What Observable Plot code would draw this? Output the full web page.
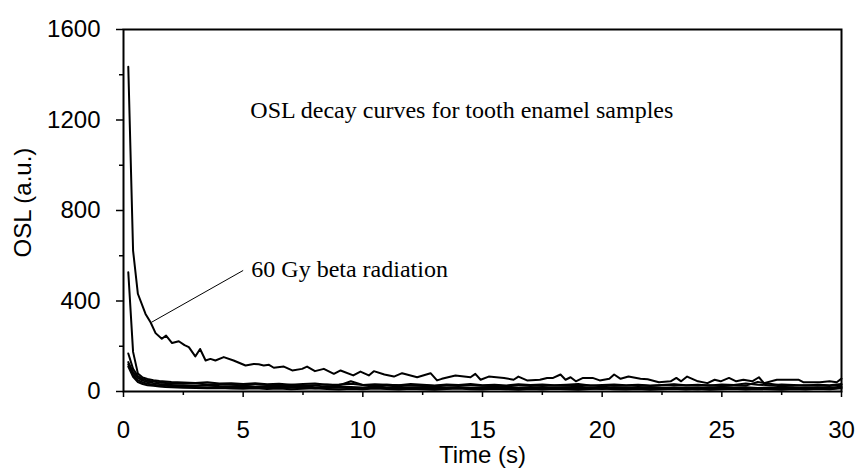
<!DOCTYPE html>
<html>
<head>
<meta charset="utf-8">
<script src="https://cdn.jsdelivr.net/npm/d3@7"></script>
<script src="https://cdn.jsdelivr.net/npm/@observablehq/plot@0.6"></script>
<style>
  body { margin: 0; background: #fff; }
</style>
</head>
<body>
<div id="chart"></div>
<script>
// ---- Tick labels ----
const xTicks = [0, 5, 10, 15, 20, 25, 30];
const xMinorTicks = [2.5, 7.5, 12.5, 17.5, 22.5, 27.5];
const yTicks = [0, 400, 800, 1200, 1600];
const yMinorTicks = [200, 600, 1000, 1400];

// ---- Texts ----
const xLabel = "Time (s)";
const yLabel = "OSL (a.u.)";
const titleText = "OSL decay curves for tooth enamel samples";
const doseText = "60 Gy beta radiation";
// annotation anchor points in data units [time, OSL]
const titleAt = [5.3, 1245];
const doseAt = [5.34, 538];
const leader = [[5.0, 535], [1.17, 306]];
const yLabelAt = 835;

// ---- 60 Gy beta curve: [time (s), OSL] ----
const beta60 = [
  [0.2, 1435], [0.4, 623], [0.6, 432], [0.92, 343], [1.13, 306], [1.34, 258],
  [1.6, 233], [1.78, 247], [2.03, 214], [2.31, 222], [2.55, 205], [2.73, 196],
  [3.0, 155], [3.2, 188], [3.43, 137], [3.63, 144], [3.84, 137], [4.19, 152],
  [4.6, 137], [5.1, 115], [5.44, 122], [5.65, 120], [5.86, 115], [6.08, 118],
  [6.28, 105], [6.7, 110], [7.05, 93], [7.46, 100], [7.67, 110], [8.0, 90],
  [8.37, 100], [8.79, 78], [9.07, 93], [9.6, 71], [9.9, 88], [10.25, 71],
  [10.46, 90], [10.9, 75], [11.3, 66], [11.64, 81], [12.27, 63], [12.83, 81],
  [13.1, 49], [13.3, 56], [13.87, 71], [14.5, 63], [14.7, 78], [14.92, 52],
  [15.26, 66], [15.9, 60], [16.3, 52], [16.5, 66], [16.86, 49], [17.4, 52],
  [17.7, 60], [17.95, 60], [18.26, 75], [18.47, 52], [18.68, 63], [18.9, 45],
  [19.2, 60], [19.6, 60], [19.9, 49], [20.3, 56], [20.5, 75], [20.77, 56],
  [21.1, 66], [21.6, 56], [21.9, 54], [22.37, 41], [22.86, 45], [23.1, 60],
  [23.3, 45], [23.55, 66], [24.0, 45], [24.4, 37], [24.7, 52], [24.95, 45],
  [25.3, 60], [25.6, 45], [25.9, 52], [26.27, 45], [26.55, 63], [26.76, 37],
  [27.3, 52], [28.2, 52], [28.4, 41], [29.1, 41], [29.5, 45], [29.8, 41], [30, 57]
];

// ---- Other samples: shared times ----
const bundleTimes = [
  0.2, 0.4, 0.6, 0.8, 1.0, 1.25, 1.5, 1.75, 2.0,
  2.5, 3, 3.5, 4, 4.5, 5, 5.5, 6,
  6.5, 7, 7.5, 8, 8.5, 9, 9.5, 10,
  10.5, 11, 11.5, 12, 12.5, 13, 13.5, 14,
  14.5, 15, 15.5, 16, 16.5, 17, 17.5, 18,
  18.5, 19, 19.5, 20, 20.5, 21, 21.5, 22,
  22.5, 23, 23.5, 24, 24.5, 25, 25.5, 26,
  26.5, 27, 27.5, 28, 28.5, 29, 29.5, 30
];
const sampleA = [
  527, 175, 80, 62, 55, 50, 46, 44, 42,
  40, 38, 41, 35, 37, 33, 36, 32,
  34, 30, 33, 35, 30, 31, 34, 29,
  32, 30, 28, 33, 30, 27, 31, 29,
  33, 28, 30, 27, 32, 29, 31, 28,
  30, 33, 27, 29, 31, 28, 30, 26,
  29, 32, 28, 30, 27, 31, 29, 35,
  30, 28, 31, 29, 27, 30, 28, 33
];
const sampleB = [
  168, 100, 68, 55, 48, 44, 40, 38, 36,
  34, 36, 31, 33, 30, 28, 32, 29,
  27, 30, 26, 28, 31, 27, 45, 29,
  26, 30, 28, 25, 27, 24, 28, 26,
  29, 25, 27, 23, 26, 28, 24, 27,
  25, 29, 26, 23, 27, 25, 28, 24,
  26, 30, 27, 25, 28, 24, 27, 26,
  42, 34, 27, 25, 28, 26, 24, 30
];
const sampleC = [
  130, 85, 60, 48, 42, 37, 33, 30, 29,
  27, 25, 28, 24, 22, 25, 21, 23,
  20, 22, 24, 19, 21, 23, 20, 18,
  22, 19, 21, 17, 20, 22, 18, 20,
  17, 19, 21, 18, 16, 20, 18, 17,
  19, 21, 18, 16, 19, 17, 20, 18,
  16, 19, 17, 15, 18, 20, 17, 19,
  16, 18, 21, 18, 17, 19, 16, 22
];
const sampleD = [
  120, 75, 50, 40, 34, 30, 27, 25, 23,
  21, 20, 18, 21, 17, 19, 16, 18,
  15, 17, 19, 14, 16, 18, 15, 13,
  17, 14, 16, 12, 15, 17, 13, 15,
  12, 14, 16, 13, 11, 15, 13, 12,
  14, 16, 13, 11, 14, 12, 15, 13,
  11, 14, 12, 10, 13, 15, 12, 14,
  11, 13, 16, 13, 12, 14, 11, 18
];
const sampleE = [
  110, 65, 42, 33, 28, 25, 22, 20, 19,
  17, 15, 14, 16, 13, 12, 14, 11,
  13, 10, 12, 14, 11, 9, 12, 10,
  13, 11, 9, 12, 10, 8, 11, 13,
  10, 9, 12, 10, 8, 11, 9, 12,
  10, 8, 11, 13, 10, 9, 11, 8,
  10, 12, 9, 11, 8, 10, 12, 9,
  11, 10, 8, 11, 9, 12, 10, 14
];

// ---- Build table ----
const rows = [];
beta60.forEach(([t, v]) => rows.push({series: "60 Gy", t, v}));
const samples = {A: sampleA, B: sampleB, C: sampleC, D: sampleD, E: sampleE};
for (const [name, vals] of Object.entries(samples)) {
  const n = Math.min(vals.length, bundleTimes.length);
  for (let i = 0; i < n; i++) rows.push({series: name, t: bundleTimes[i], v: vals[i]});
}

const sans = "'Liberation Sans', Arial, sans-serif";
const serif = "'Liberation Serif', 'Times New Roman', serif";

const chart = Plot.plot({
  width: 857,
  height: 471,
  marginLeft: 123,
  marginRight: 16,
  marginTop: 29,
  marginBottom: 80,
  style: {fontFamily: sans, fontSize: "24px", color: "#000", background: "#fff"},
  x: {domain: [0, 30]},
  y: {domain: [0, 1600]},
  marks: [
    Plot.line(rows, {x: "t", y: "v", z: "series", stroke: "#000", strokeWidth: 2}),
    Plot.frame({stroke: "#000", strokeWidth: 2}),
    Plot.axisX({ticks: xTicks, tickSize: 6, tickPadding: 23, tickFormat: d => String(d),
      fontSize: 24, fontFamily: sans, strokeWidth: 1.5, label: xLabel, labelAnchor: "center",
      labelArrow: "none", labelOffset: 71}),
    Plot.axisX({ticks: xMinorTicks, tickSize: 4, tickFormat: () => "", strokeWidth: 1.5, label: null}),
    Plot.axisY({ticks: yTicks, tickSize: 7, tickPadding: 16, tickFormat: d => String(d),
      fontSize: 24, fontFamily: sans, strokeWidth: 1.5, label: null}),
    Plot.axisY({ticks: yMinorTicks, tickSize: 4, tickFormat: () => "", strokeWidth: 1.5, label: null}),
    Plot.text([{y: yLabelAt, label: yLabel}], {y: "y", text: "label", frameAnchor: "left",
      textAnchor: "middle", dx: -110, rotate: -90, lineAnchor: "top", fontSize: 24, fontFamily: sans, fill: "#000"}),
    Plot.link([leader], {x1: d => d[0][0], y1: d => d[0][1], x2: d => d[1][0], y2: d => d[1][1],
      stroke: "#000", strokeWidth: 1}),
    Plot.text([{t: titleAt[0], v: titleAt[1], label: titleText}], {x: "t", y: "v", text: "label",
      textAnchor: "start", lineAnchor: "middle", fontSize: 24, fontFamily: serif, fill: "#000"}),
    Plot.text([{t: doseAt[0], v: doseAt[1], label: doseText}], {x: "t", y: "v", text: "label",
      textAnchor: "start", lineAnchor: "middle", fontSize: 24, fontFamily: serif, fill: "#000"})
  ]
});
document.getElementById("chart").appendChild(chart);
</script>
</body>
</html>
